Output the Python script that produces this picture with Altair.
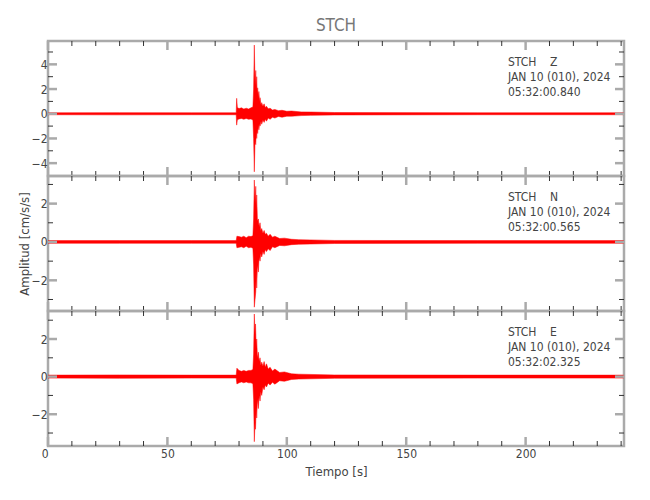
import altair as alt
import pandas as pd

FONT = "'Liberation Sans Narrow', 'DejaVu Sans Condensed', 'Roboto Condensed', sans-serif"

# ---- waveform envelopes (time [s], upper / lower amplitude [cm/s/s]) ----
T_Z = [0, 30, 60, 78.8, 79.0, 79.3, 80, 81, 82, 83, 84, 85, 85.8, 86.1, 86.4, 86.7, 87.0, 87.2, 87.4,
       87.6, 87.8, 88.1, 88.3, 88.6, 88.8, 89.2, 89.5, 90.0, 90.5, 91.0, 91.5, 92.2, 93, 94, 95, 96.5, 98, 100,
       102, 106, 110, 120, 180, 241]
HI_Z = [0.08, 0.09, 0.08, 0.08, 1.25, 0.5, 0.42, 0.48, 0.38, 0.45, 0.38, 0.48, 0.55, 2.0, 5.56, 2.3, 3.5, 1.9, 3.0,
        1.6, 2.1, 1.3, 1.8, 1.0, 1.3, 0.7, 0.9, 0.6, 0.8, 0.5, 0.6, 0.4, 0.45, 0.3, 0.35, 0.25, 0.28, 0.2,
        0.22, 0.15, 0.14, 0.1, 0.08, 0.08]
LO_Z = [-0.08, -0.09, -0.08, -0.08, -0.92, -0.48, -0.42, -0.38, -0.45, -0.38, -0.45, -0.42, -0.5, -2.0, -4.7, -2.2,
        -2.5, -1.4, -2.0, -1.2, -1.6, -0.9, -1.3, -0.8, -1.0, -0.6, -0.85, -0.5, -0.7, -0.45, -0.6, -0.35, -0.45,
        -0.28, -0.35, -0.22, -0.28, -0.2, -0.2, -0.15, -0.13, -0.1, -0.08, -0.08]

T_N = [0, 30, 60, 78.8, 79.1, 80, 81, 82, 83, 84, 85, 85.8, 86.1, 86.4, 86.7, 87.0, 87.2, 87.4, 87.7, 88.1,
       88.4, 88.8, 89.1, 89.5, 90.0, 90.5, 91.0, 91.5, 92.2, 93, 94, 95, 97, 99, 102, 105, 120, 180, 241]
HI_N = [0.07, 0.07, 0.07, 0.07, 0.3, 0.28, 0.25, 0.3, 0.22, 0.3, 0.28, 0.33, 1.2, 3.23, 2.0, 2.9, 1.6, 2.45, 1.1,
        1.2, 0.8, 1.0, 0.6, 0.7, 0.45, 0.6, 0.4, 0.45, 0.3, 0.4, 0.25, 0.3, 0.18, 0.2, 0.14, 0.12, 0.08, 0.07,
        0.07]
LO_N = [-0.07, -0.07, -0.07, -0.07, -0.3, -0.28, -0.25, -0.3, -0.22, -0.3, -0.28, -0.33, -1.2, -3.4, -3.0, -2.6,
        -1.5, -2.4, -1.2, -1.57, -0.8, -1.0, -0.6, -0.78, -0.5, -0.65, -0.4, -0.5, -0.35, -0.45, -0.25, -0.3,
        -0.18, -0.2, -0.14, -0.12, -0.08, -0.07, -0.07]

T_E = [0, 30, 60, 78.8, 79.1, 80, 81, 82, 83, 84, 85, 85.8, 86.1, 86.4, 86.7, 86.9, 87.2, 87.4, 87.7, 88.1,
       88.4, 88.8, 89.1, 89.5, 90.0, 90.5, 91.0, 91.5, 92.2, 93, 94, 95, 97, 99, 102, 105, 120, 180, 241]
HI_E = [0.08, 0.09, 0.08, 0.08, 0.45, 0.33, 0.28, 0.33, 0.28, 0.33, 0.33, 0.38, 1.2, 3.33, 2.2, 2.8, 1.5, 2.0, 1.0,
        1.3, 0.8, 1.0, 0.6, 0.77, 0.55, 0.8, 0.5, 0.68, 0.4, 0.5, 0.3, 0.4, 0.22, 0.25, 0.15, 0.13, 0.09, 0.08,
        0.08]
LO_E = [-0.08, -0.09, -0.08, -0.08, -0.39, -0.33, -0.28, -0.33, -0.28, -0.33, -0.33, -0.38, -1.2, -3.46, -2.4,
        -2.8, -1.6, -2.2, -1.2, -1.7, -1.0, -1.3, -0.8, -1.0, -0.55, -0.7, -0.45, -0.55, -0.35, -0.45, -0.3,
        -0.4, -0.22, -0.25, -0.15, -0.13, -0.09, -0.08, -0.08]

# ---- axes / labels ----
X_DOMAIN = [0, 241.2]
X_MAJOR = [0, 50, 100, 150, 200]
X_MINOR = [10, 20, 30, 40, 60, 70, 80, 90, 110, 120, 130, 140, 160, 170, 180, 190, 210, 220, 230, 240]
DOM_Z = [-5.04, 5.89]
DOM_N = [-3.6, 3.44]
DOM_E = [-3.69, 3.49]
Y_MAJOR_Z = [-4, -2, 0, 2, 4]
Y_MINOR_Z = [-5, -3, -1, 1, 3, 5]
Y_MAJOR_NE = [-2, 0, 2]
Y_MINOR_NE = [-3, -1, 1, 3]
INFO_Z = ["STCH\u00a0\u00a0\u00a0\u00a0Z", "JAN 10 (010), 2024", "05:32:00.840"]
INFO_N = ["STCH\u00a0\u00a0\u00a0\u00a0N", "JAN 10 (010), 2024", "05:32:00.565"]
INFO_E = ["STCH\u00a0\u00a0\u00a0\u00a0E", "JAN 10 (010), 2024", "05:32:02.325"]

W, H = 576, 135
AX = "#aaaaaa"
TXT = "#444444"


def panel(t, hi, lo, dom, ymaj, ymin, info, bottom=False, ytitle=None, title=None):
    xs = alt.Scale(domain=X_DOMAIN, nice=False, zero=False)
    ys = alt.Scale(domain=dom, nice=False, zero=False)
    if bottom:
        xaxis = alt.Axis(values=X_MAJOR, title="Tiempo [s]", ticks=False, tickSize=0, domain=False, grid=False,
                         labelPadding=2, titlePadding=6, labelFontSize=12, titleFontSize=13,
                         labelColor=TXT, titleColor=TXT, labelFont=FONT, titleFont=FONT,
                         titleFontWeight="normal",
                         labelAlign={"condition": {"test": "datum.value == 0", "value": "right"},
                                     "value": "center"})
    else:
        xaxis = None
    yaxis = alt.Axis(values=ymaj, title=ytitle, ticks=False, tickSize=0, domain=False, grid=False,
                     labelPadding=1, titlePadding=0, labelFontSize=12, titleFontSize=13,
                     labelColor=TXT, titleColor=TXT, labelFont=FONT, titleFont=FONT,
                     titleFontWeight="normal")
    df = pd.DataFrame({"t": t, "hi": hi, "lo": lo})
    wave = alt.Chart(df).mark_area(color="#ff0000", stroke="#ff0000", strokeWidth=0.5, clip=True).encode(
        x=alt.X("t:Q", scale=xs, axis=xaxis),
        y=alt.Y("hi:Q", scale=ys, axis=yaxis),
        y2="lo:Q",
    )
    layers = [wave]

    def xt(vals, y0, y1, color, sw):
        return alt.Chart(pd.DataFrame({"t": vals})).mark_rule(color=color, strokeWidth=sw).encode(
            x=alt.X("t:Q", scale=xs, axis=None), y=alt.value(y0), y2=alt.value(y1))

    def yt(vals, x0, x1, color, sw):
        return alt.Chart(pd.DataFrame({"v": vals})).mark_rule(color=color, strokeWidth=sw).encode(
            y=alt.Y("v:Q", scale=ys, axis=None), x=alt.value(x0), x2=alt.value(x1))

    layers += [
        xt(X_MINOR, 0, 5, "#333333", 1), xt(X_MINOR, H, H - 5, "#333333", 1),
        xt(X_MAJOR, 0, 9, AX, 2.5), xt(X_MAJOR, H, H - 9, AX, 2.5),
        yt(ymin, 0, 5, "#333333", 1), yt(ymin, W, W - 5, "#333333", 1),
        yt(ymaj, 0, 9, AX, 2.5), yt(ymaj, W, W - 9, AX, 2.5),
    ]
    txt = alt.Chart(pd.DataFrame({"a": [0]})).mark_text(
        align="left", baseline="alphabetic", fontSize=12, lineHeight=15, font=FONT, color=TXT
    ).encode(x=alt.value(460), y=alt.value(25), text=alt.value(info))
    layers.append(txt)
    ch = alt.layer(*layers).resolve_axis(x="independent", y="independent").properties(width=W, height=H)
    if title:
        ch = ch.properties(title=alt.TitleParams(title, fontSize=17, color="#777777", fontWeight="normal",
                                                 font=FONT, offset=5, anchor="middle", frame="group"))
    return ch


p1 = panel(T_Z, HI_Z, LO_Z, DOM_Z, Y_MAJOR_Z, Y_MINOR_Z, INFO_Z, title="STCH")
p2 = panel(T_N, HI_N, LO_N, DOM_N, Y_MAJOR_NE, Y_MINOR_NE, INFO_N, ytitle="Amplitud [cm/s/s]")
p3 = panel(T_E, HI_E, LO_E, DOM_E, Y_MAJOR_NE, Y_MINOR_NE, INFO_E, bottom=True)

chart = alt.vconcat(p1, p2, p3, spacing=0, bounds="flush").properties(
    padding={"left": 8, "top": 7, "right": 5, "bottom": 5}
).configure_view(stroke=AX, strokeWidth=2.5)

chart.save("out.html", embed_options={"renderer": "svg", "actions": False})
